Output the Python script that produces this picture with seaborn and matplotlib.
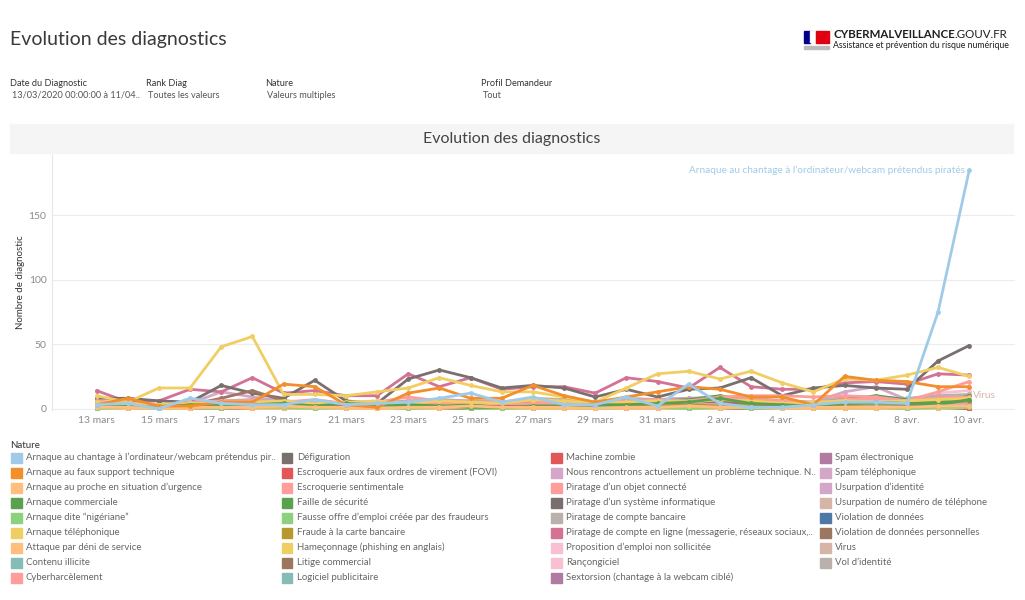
import pandas as pd
import matplotlib.pyplot as plt
import seaborn as sns
from matplotlib.patches import Rectangle

# days shown (13 mars -> 10 avr.)
dates = pd.date_range('2020-03-13', '2020-04-10', freq='D')
tick_labels = ['13 mars', '15 mars', '17 mars', '19 mars', '21 mars', '23 mars', '25 mars',
               '27 mars', '29 mars', '31 mars', '2 avr.', '4 avr.', '6 avr.', '8 avr.', '10 avr.']

# daily counts per nature
chantage = [3, 4, 0, 8, 4, 3, 3, 7, 3, 4, 5, 8, 12, 5, 9, 3, 3, 9, 2, 19, 4, 1, 1, 3, 5, 5, 4, 75, 185]
faux_support = [3, 8, 2, 2, 5, 5, 19, 17, 3, 1, 12, 16, 8, 8, 18, 10, 5, 9, 13, 17, 15, 9, 9, 3, 25, 22, 21, 17, 17]
proche_urgence = [1, 1, 0, 1, 1, 1, 2, 1, 1, 0, 1, 1, 2, 1, 1, 1, 0, 1, 1, 2, 1, 1, 0, 1, 1, 1, 1, 2, 2]
arnaque_commerciale = [2, 2, 1, 3, 3, 3, 4, 2, 4, 3, 3, 2, 1, 1, 2, 2, 3, 3, 4, 5, 8, 4, 3, 2, 4, 5, 4, 3, 7]
nigeriane = [0, 1, 0, 1, 1, 1, 1, 0, 1, 1, 0, 1, 1, 0, 1, 1, 0, 1, 1, 0, 1, 1, 0, 1, 1, 1, 0, 1, 1]
arnaque_telephonique = [5, 4, 3, 4, 4, 5, 6, 4, 5, 6, 4, 6, 5, 4, 7, 6, 4, 5, 6, 5, 7, 6, 4, 5, 6, 5, 6, 7, 8]
deni_service = [0, 0, 0, 0, 1, 0, 0, 0, 0, 0, 0, 0, 1, 0, 0, 0, 0, 0, 0, 0, 0, 1, 0, 0, 0, 0, 0, 0, 1]
contenu_illicite = [1, 1, 0, 1, 2, 1, 1, 1, 0, 1, 1, 2, 1, 1, 1, 0, 1, 1, 1, 2, 1, 1, 1, 0, 1, 2, 1, 1, 2]
cyberharcelement = [6, 4, 3, 5, 6, 6, 5, 7, 4, 5, 9, 6, 5, 5, 6, 5, 4, 6, 7, 6, 8, 7, 6, 4, 7, 8, 6, 13, 21]
defiguration = [1, 0, 1, 0, 1, 1, 0, 1, 0, 0, 1, 0, 1, 1, 0, 1, 0, 1, 1, 0, 0, 1, 0, 1, 1, 0, 1, 2, 1]
fovi = [2, 1, 1, 2, 1, 2, 1, 1, 2, 1, 2, 1, 1, 2, 1, 1, 2, 1, 1, 2, 1, 1, 2, 1, 1, 2, 1, 1, 0]
sentimentale = [3, 2, 2, 4, 5, 6, 5, 4, 3, 3, 5, 4, 5, 3, 4, 4, 3, 5, 4, 6, 9, 10, 10, 9, 10, 9, 6, 8, 9]
faille_securite = [4, 3, 2, 3, 4, 4, 5, 3, 3, 3, 4, 4, 4, 3, 4, 3, 4, 5, 6, 7, 10, 6, 5, 4, 7, 10, 7, 4, 10]
fausse_offre = [0, 0, 1, 0, 0, 1, 0, 0, 1, 0, 0, 1, 0, 0, 1, 0, 0, 1, 0, 0, 1, 0, 0, 1, 0, 0, 1, 0, 0]
fraude_cb = [2, 3, 1, 2, 2, 3, 2, 2, 3, 2, 2, 3, 2, 2, 3, 2, 2, 3, 2, 3, 2, 3, 2, 2, 3, 3, 2, 4, 6]
hameconnage = [10, 5, 16, 16, 48, 56, 11, 11, 10, 13, 16, 24, 18, 13, 13, 9, 5, 16, 27, 29, 23, 29, 20, 13, 23, 22, 26, 32, 25]
litige = [4, 3, 2, 3, 8, 14, 6, 4, 3, 2, 5, 5, 4, 3, 5, 4, 3, 5, 4, 6, 5, 4, 3, 3, 5, 4, 4, 6, 7]
logiciel_pub = [1, 1, 0, 1, 1, 2, 1, 1, 1, 0, 1, 1, 1, 1, 2, 1, 1, 1, 1, 1, 2, 1, 1, 1, 1, 2, 1, 1, 2]
machine_zombie = [0, 0, 0, 1, 0, 0, 0, 0, 1, 0, 0, 0, 0, 0, 1, 0, 0, 0, 0, 0, 0, 1, 0, 0, 0, 0, 0, 1, 0]
nous_rencontrons = [2, 1, 1, 2, 2, 2, 1, 2, 1, 1, 2, 2, 2, 1, 2, 1, 1, 2, 2, 3, 2, 2, 1, 2, 2, 3, 2, 3, 3]
objet_connecte = [1, 1, 0, 1, 1, 1, 1, 1, 0, 1, 1, 1, 1, 1, 1, 0, 1, 1, 1, 1, 1, 1, 1, 0, 1, 1, 1, 3, 4]
systeme_info = [8, 8, 6, 5, 18, 12, 8, 22, 6, 4, 23, 30, 24, 16, 18, 16, 9, 15, 9, 15, 16, 24, 10, 16, 18, 16, 15, 37, 49]
compte_bancaire = [5, 4, 3, 4, 6, 7, 5, 6, 4, 4, 6, 7, 6, 5, 8, 7, 5, 8, 7, 8, 9, 8, 6, 5, 9, 8, 8, 10, 11]
compte_en_ligne = [14, 5, 6, 15, 13, 24, 12, 14, 10, 10, 27, 17, 24, 15, 17, 17, 12, 24, 21, 16, 32, 17, 15, 15, 20, 21, 19, 27, 26]
proposition_emploi = [1, 1, 1, 2, 2, 3, 2, 1, 2, 1, 2, 2, 3, 2, 2, 1, 2, 2, 3, 2, 3, 2, 2, 1, 3, 2, 4, 5, 6]
rancongiciel = [2, 2, 1, 3, 3, 4, 3, 2, 2, 2, 3, 3, 4, 3, 4, 3, 2, 4, 5, 6, 8, 5, 4, 3, 5, 6, 7, 12, 14]
sextorsion = [3, 2, 1, 2, 3, 2, 2, 3, 2, 2, 3, 2, 3, 2, 2, 2, 2, 3, 2, 3, 2, 2, 2, 2, 3, 3, 2, 3, 4]
spam_electronique = [2, 1, 1, 2, 2, 2, 1, 2, 1, 1, 2, 2, 1, 2, 1, 1, 2, 2, 1, 2, 2, 1, 2, 1, 2, 2, 1, 2, 3]
spam_telephonique = [5, 4, 3, 4, 13, 9, 6, 5, 4, 4, 6, 5, 6, 5, 6, 5, 4, 6, 7, 8, 6, 7, 6, 5, 13, 17, 7, 9, 10]
usurpation_identite = [3, 2, 2, 3, 3, 4, 3, 3, 2, 2, 4, 3, 3, 3, 3, 2, 3, 4, 4, 4, 3, 3, 3, 2, 4, 4, 3, 4, 5]
usurpation_numero = [2, 2, 1, 2, 3, 2, 2, 2, 2, 1, 2, 3, 2, 2, 3, 2, 2, 3, 3, 3, 2, 3, 2, 2, 3, 3, 3, 4, 5]
violation_donnees = [0, 0, 0, 0, 1, 0, 0, 0, 0, 0, 0, 1, 0, 0, 0, 0, 0, 0, 1, 0, 0, 0, 0, 0, 0, 1, 0, 0, 1]
violation_perso = [1, 1, 1, 1, 1, 2, 1, 1, 1, 1, 2, 1, 1, 1, 1, 1, 1, 2, 1, 1, 1, 2, 1, 1, 1, 1, 2, 2, 3]
virus = [5, 4, 3, 4, 5, 4, 4, 5, 3, 3, 5, 6, 5, 5, 6, 5, 4, 6, 7, 6, 5, 6, 5, 4, 6, 6, 5, 8, 10]
vol_identite = [1, 1, 0, 1, 1, 1, 1, 1, 1, 0, 1, 1, 1, 1, 1, 1, 0, 1, 1, 1, 1, 1, 1, 0, 1, 1, 1, 2, 2]

natures = [
    'Arnaque au chantage à l’ordinateur/webcam prétendus piratés',
    'Arnaque au faux support technique',
    'Arnaque au proche en situation d’urgence',
    'Arnaque commerciale',
    'Arnaque dite “nigériane”',
    'Arnaque téléphonique',
    'Attaque par déni de service',
    'Contenu illicite',
    'Cyberharcèlement',
    'Défiguration',
    'Escroquerie aux faux ordres de virement (FOVI)',
    'Escroquerie sentimentale',
    'Faille de sécurité',
    'Fausse offre d’emploi créée par des fraudeurs',
    'Fraude à la carte bancaire',
    'Hameçonnage (phishing en anglais)',
    'Litige commercial',
    'Logiciel publicitaire',
    'Machine zombie',
    'Nous rencontrons actuellement un problème technique. N..',
    'Piratage d’un objet connecté',
    'Piratage d’un système informatique',
    'Piratage de compte bancaire',
    'Piratage de compte en ligne (messagerie, réseaux sociaux,..',
    'Proposition d’emploi non sollicitée',
    'Rançongiciel',
    'Sextorsion (chantage à la webcam ciblé)',
    'Spam électronique',
    'Spam téléphonique',
    'Usurpation d’identité',
    'Usurpation de numéro de téléphone',
    'Violation de données',
    'Violation de données personnelles',
    'Virus',
    'Vol d’identité',
]
legend_labels = ['Arnaque au chantage à l’ordinateur/webcam prétendus pir..'] + natures[1:]

colors = ['#a0cbe8', '#f28e2b', '#ffbe7d', '#59a14f', '#8cd17d', '#f1ce63', '#ffbe7d', '#86bcb6',
          '#ff9d9a', '#79706e', '#e15759', '#ff9d9a', '#59a14f', '#8cd17d', '#b6992d', '#f1ce63',
          '#9d7660', '#86bcb6', '#e15759', '#d4a6c8', '#ff9d9a', '#79706e', '#bab0ac', '#d37295',
          '#fabfd2', '#fabfd2', '#b07aa1', '#b07aa1', '#d4a6c8', '#d4a6c8', '#d7b5a6', '#4e79a7',
          '#9d7660', '#d7b5a6', '#bab0ac']

series = [chantage, faux_support, proche_urgence, arnaque_commerciale, nigeriane, arnaque_telephonique,
          deni_service, contenu_illicite, cyberharcelement, defiguration, fovi, sentimentale,
          faille_securite, fausse_offre, fraude_cb, hameconnage, litige, logiciel_pub, machine_zombie,
          nous_rencontrons, objet_connecte, systeme_info, compte_bancaire, compte_en_ligne,
          proposition_emploi, rancongiciel, sextorsion, spam_electronique, spam_telephonique,
          usurpation_identite, usurpation_numero, violation_donnees, violation_perso, virus, vol_identite]

rows = []
for name, vals in zip(natures, series):
    for d, v in zip(dates, vals):
        rows.append({'Date': d, 'Nature': name, 'Nombre': v})
df = pd.DataFrame(rows)

sns.set_theme(style='white')
plt.rcParams['font.family'] = ['Lato', 'DejaVu Sans']

W, H = 1025, 600
fig = plt.figure(figsize=(W / 100, H / 100), dpi=100)


def fx(px):
    return px / W


def fy(py):
    return 1 - py / H


# header
fig.text(fx(10), fy(40), 'Evolution des diagnostics', fontsize=14, color='#3a3a3a', va='center')

# little flag logo
fig.add_artist(Rectangle((fx(804), fy(43)), fx(6), 12 / H, color='#000091', transform=fig.transFigure))
fig.add_artist(Rectangle((fx(810), fy(43)), fx(6), 12 / H, color='#ffffff', ec='#dddddd', lw=0.3,
                         transform=fig.transFigure))
fig.add_artist(Rectangle((fx(816), fy(43)), fx(13), 12 / H, color='#e1000f', transform=fig.transFigure))
fig.add_artist(Rectangle((fx(804), fy(49)), fx(25), 3 / H, color='#bbbbbb', transform=fig.transFigure))
t1 = fig.text(fx(833), fy(34), 'CYBERMALVEILLANCE', fontsize=8.3, fontweight='bold', color='#1e1e1e',
              va='center')
fig.canvas.draw()
bb = t1.get_window_extent()
fig.text(bb.x1 / fig.bbox.width, fy(34), '.GOUV.FR', fontsize=8.3, color='#1e1e1e', va='center')
fig.text(fx(833), fy(45), 'Assistance et prévention du risque numérique', fontsize=6.3,
         color='#1e1e1e', va='center')

# filter row
filters = [(10, 'Date du Diagnostic', '13/03/2020 00:00:00 à 11/04..'),
           (146, 'Rank Diag', 'Toutes les valeurs'),
           (265, 'Nature', 'Valeurs multiples'),
           (481, 'Profil Demandeur', 'Tout')]
for x0, lab, val in filters:
    fig.text(fx(x0), fy(83), lab, fontsize=6.6, color='#333333', va='center')
    fig.text(fx(x0 + 2), fy(95), val, fontsize=6.6, color='#555555', va='center')

# chart title bar
fig.add_artist(Rectangle((fx(10), fy(153)), fx(1003), 29 / H, color='#f5f5f5', transform=fig.transFigure))
fig.text(fx(512), fy(139), 'Evolution des diagnostics', fontsize=11.5, color='#444444', ha='center',
         va='center')

# line chart
ax = fig.add_axes([fx(52), fy(410), fx(963), (410 - 155) / H])
sns.lineplot(data=df, x='Date', y='Nombre', hue='Nature', hue_order=natures[::-1],
             palette=dict(zip(natures, colors)), marker='o', markersize=3.5, markeredgewidth=0,
             linewidth=2, legend=False, ax=ax)

ax.set_xlim(dates[0] - pd.Timedelta(days=1.43), dates[0] + pd.Timedelta(days=29.47))
ax.set_ylim(-1.1, 197)
ax.set_xticks(dates[::2])
ax.set_xticklabels(tick_labels)
ax.set_yticks([0, 50, 100, 150])
ax.tick_params(axis='both', length=0, labelsize=7.5, labelcolor='#8a8a8a')
ax.tick_params(axis='y', pad=4)
ax.tick_params(axis='x', pad=4)
ax.yaxis.grid(True, color='#ececec', linewidth=0.8)
ax.xaxis.grid(False)
for s in ['top', 'right', 'bottom']:
    ax.spines[s].set_visible(False)
ax.spines['left'].set_color('#e6e6e6')
ax.spines['left'].set_linewidth(0.8)
ax.set_xlabel('')
ax.set_ylabel('Nombre de diagnostic', fontsize=7, color='#333333')
ax.yaxis.set_label_coords(-0.028, 0.5)

# end-of-line labels
ax.annotate(natures[0], xy=(dates[-1], chantage[-1]), xytext=(-3, 0), textcoords='offset points',
            ha='right', va='center', fontsize=7.2, color=colors[0])
ax.annotate('Virus', xy=(dates[-1], virus[-1]), xytext=(3, 0), textcoords='offset points',
            ha='left', va='center', fontsize=7.2, color='#d7b5a6')

# legend, four fixed-width columns
fig.text(fx(10), fy(445), 'Nature', fontsize=7, color='#333333', va='center')
sq_x = [11, 281.7, 551, 820]
for i, (lab, col) in enumerate(zip(legend_labels, colors)):
    c, r = i // 9, i % 9
    yc = 457.7 + 15 * r
    fig.add_artist(Rectangle((fx(sq_x[c]), fy(yc + 5)), fx(10.5), 10 / H, color=col,
                             transform=fig.transFigure))
    fig.text(fx(sq_x[c] + 15), fy(yc), lab, fontsize=6.9, color='#666666', va='center')

fig.savefig('out.png', dpi=100)
